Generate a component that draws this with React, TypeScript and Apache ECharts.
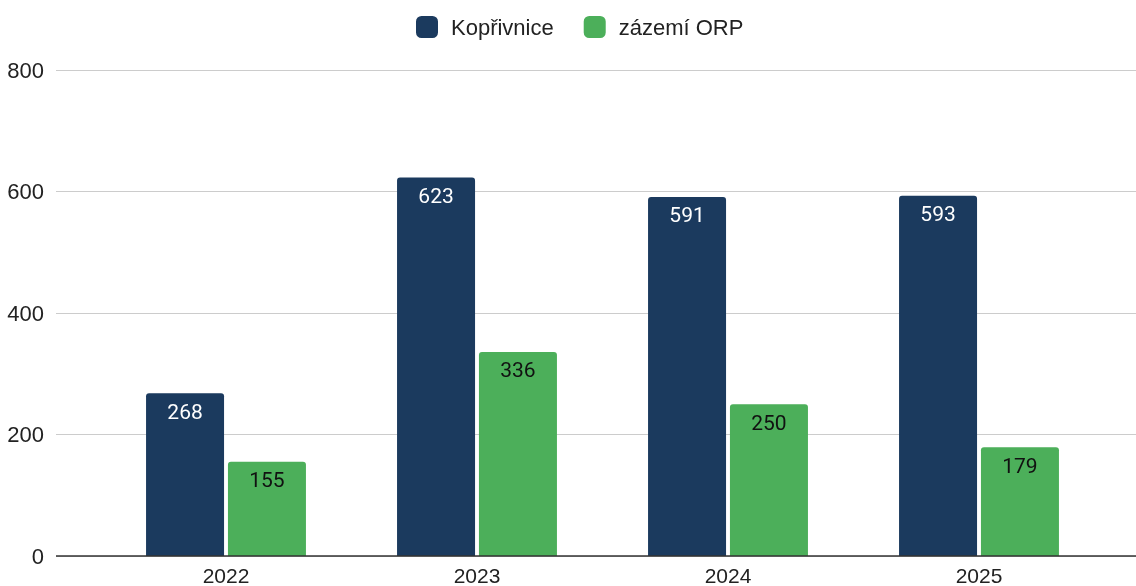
import React, { useEffect, useRef } from "react";
import * as echarts from "echarts";

const categories = ["2022", "2023", "2024", "2025"];
const koprivnice = [268, 623, 591, 593];
const zazemi = [155, 336, 250, 179];
const yTicks = [0, 200, 400, 600, 800];

const NAVY = "#1b3a5e";
const GREEN = "#4caf5a";

export default function App() {
  const ref = useRef<HTMLDivElement>(null);
  useEffect(() => {
    if (!ref.current) return;
    const chart = echarts.init(ref.current, null, { renderer: "svg" });
    const arial = "'Liberation Sans', Arial, sans-serif";
    const roboto = "Roboto, Arial, sans-serif";
    chart.setOption({
      animation: false,
      textStyle: { fontFamily: arial },
      legend: {
        top: 11,
        left: 411,
        itemWidth: 22,
        itemHeight: 22,
        itemGap: 30,
        icon: "roundRect",
        textStyle: { fontSize: 22, color: "#222", fontFamily: arial, padding: [0, 0, 0, 8] },
        data: ["Kopřivnice", "zázemí ORP"],
      },
      grid: [
        { left: 56, right: 0, top: 70, bottom: 30, outerBoundsMode: "none", containLabel: false },
        { left: 100.5, right: 31.5, top: 70, bottom: 30, outerBoundsMode: "none", containLabel: false },
      ],
      xAxis: [
        { type: "value", gridIndex: 0, show: false, min: 0, max: 1 },
        {
          type: "category",
          gridIndex: 1,
          data: categories,
          axisTick: { show: false },
          axisLine: { show: false },
          axisLabel: {
            fontSize: 21,
            lineHeight: 19,
            color: "#222",
            margin: 10,
            fontFamily: arial,
          },
        },
      ],
      yAxis: [
        {
          type: "value",
          gridIndex: 0,
          min: yTicks[0],
          max: yTicks[yTicks.length - 1],
          interval: 200,
          axisLine: { show: false },
          axisTick: { show: false },
          axisLabel: { fontSize: 22, color: "#222", margin: 12, fontFamily: arial },
          splitLine: { lineStyle: { color: "#cccccc", width: 1 } },
        },
        { type: "value", gridIndex: 1, min: 0, max: 800, show: false },
      ],
      series: [
        {
          name: "Kopřivnice",
          type: "bar",
          xAxisIndex: 1,
          yAxisIndex: 1,
          data: koprivnice,
          barWidth: 78,
          barGap: "5%",
          itemStyle: { color: NAVY, borderRadius: [3, 3, 0, 0] },
          label: {
            show: true,
            position: "insideTop",
            distance: 8,
            color: "#ffffff",
            fontSize: 21,
            fontFamily: roboto,
          },
          z: 3,
        },
        {
          name: "zázemí ORP",
          type: "bar",
          xAxisIndex: 1,
          yAxisIndex: 1,
          data: zazemi,
          barWidth: 78,
          itemStyle: { color: GREEN, borderRadius: [3, 3, 0, 0] },
          label: {
            show: true,
            position: "insideTop",
            distance: 8,
            color: "#111111",
            fontSize: 21,
            fontFamily: roboto,
          },
          z: 3,
        },
        {
          name: "baseline",
          type: "line",
          xAxisIndex: 0,
          yAxisIndex: 0,
          data: [],
          silent: true,
          markLine: {
            symbol: "none",
            silent: true,
            label: { show: false },
            lineStyle: { color: "#333333", width: 1.5, type: "solid" },
            data: [{ yAxis: yTicks[0] }],
          },
          z: 5,
        },
      ],
    });
    return () => chart.dispose();
  }, []);
  return (
    <div
      ref={ref}
      style={{ position: "fixed", left: 0, top: 0, width: 1136, height: 586 }}
    />
  );
}
